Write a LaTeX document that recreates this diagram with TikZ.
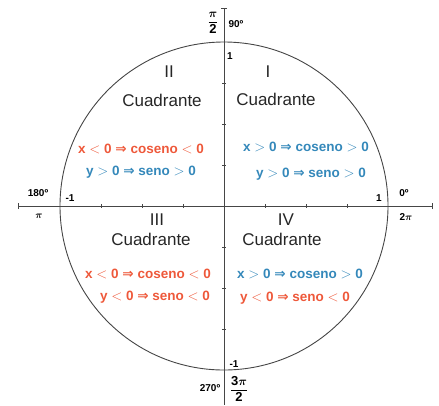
\documentclass[tikz,border=0pt]{standalone}
\usepackage{amsmath}
\usepackage{bm}
\usepackage{fontspec}
\setmainfont{Liberation Sans}
\newfontfamily\symf{DejaVu Sans}
\definecolor{redq}{RGB}{238,88,58}
\definecolor{blueq}{RGB}{52,136,186}
\definecolor{axisc}{RGB}{70,70,70}
\newcommand{\impl}{\ {\symf\bfseries ⇒}\ }
\begin{document}
\begin{tikzpicture}[x=1pt,y=-1pt,
  axisline/.style={draw=axisc,line width=0.9pt},
  tickmark/.style={draw=axisc,line width=0.7pt},
  quad/.style={font=\fontsize{17}{19}\selectfont,text=black!85,inner sep=0pt},
  cond/.style={font=\fontsize{13.5}{15}\selectfont\bfseries,inner sep=0pt},
  small/.style={font=\fontsize{10}{11}\selectfont\bfseries,inner sep=0pt},
  frac/.style={font=\fontsize{13}{14}\selectfont,inner sep=0pt}]
\useasboundingbox (0,0) rectangle (439,405);
% circle
\node[circle,draw=axisc,line width=0.9pt,minimum size=328pt,inner sep=0pt] (circ) at (224,206) {};
% axes
\coordinate (xl) at (18,206);
\coordinate (xr) at (432,206);
\coordinate (yt) at (224,8);
\coordinate (yb) at (224,405);
\draw[axisline] (xl) -- (xr);
\draw[axisline] (yt) -- (yb);
% end ticks
\draw[tickmark] ([xshift=-3pt]yt) -- ([xshift=3pt]yt);
\draw[tickmark] ([yshift=-3pt]xl) -- ([yshift=3pt]xl);
\draw[tickmark] ([yshift=-3pt]xr) -- ([yshift=3pt]xr);
% ticks
\foreach \d in {-123,-82,-41,41,82,123}{
  \draw[tickmark] (224+\d,204) -- (224+\d,208);
  \draw[tickmark] (222,206+\d) -- (226,206+\d);
}
% quadrant labels
\node[quad] (q2) at (169,72) {II};
\node[quad] (c2) at (162,100) {Cuadrante};
\node[quad] (q1) at (268,72) {I};
\node[quad] (c1) at (276,99) {Cuadrante};
\node[quad] (q3) at (157,220) {III};
\node[quad] (c3) at (151,239) {Cuadrante};
\node[quad] (q4) at (286,220) {IV};
\node[quad] (c4) at (282,239) {Cuadrante};
% conditions
\node[cond,text=redq] (x2) at (141,149) {x $<$ 0\impl coseno $<$ 0};
\node[cond,text=blueq] (y2) at (141,172) {y $>$ 0\impl seno $>$ 0};
\node[cond,text=blueq] (x1) at (306,147) {x $>$ 0\impl coseno $>$ 0};
\node[cond,text=blueq] (y1) at (311,174) {y $>$ 0\impl seno $>$ 0};
\node[cond,text=redq] (x3) at (148,274) {x $<$ 0\impl coseno $<$ 0};
\node[cond,text=redq] (y3) at (155,297) {y $<$ 0\impl seno $<$ 0};
\node[cond,text=blueq] (x4) at (300,274) {x $>$ 0\impl coseno $>$ 0};
\node[cond,text=redq] (y4) at (295,298) {y $<$ 0\impl seno $<$ 0};
% axis labels
\node[frac] (p2) at (213,23) {$\dfrac{\bm{\pi}}{\mathbf{2}}$};
\node[small] (d90) at (236,24) {90º};
\node[small] (one) at (230,56) {1};
\node[small] (d180) at (38,193) {180º};
\node[small] (m1l) at (70,198) {-1};
\node[small] (pi) at (39,216) {$\bm{\pi}$};
\node[small] (one2) at (379,198) {1};
\node[small] (d0) at (404,193) {0º};
\node[small] (tpi) at (406,217) {2$\bm{\pi}$};
\node[small] (m1b) at (234,364) {-1};
\node[small] (d270) at (210,388) {270º};
\node[frac] (p32) at (239,389) {$\dfrac{\mathbf{3}\bm{\pi}}{\mathbf{2}}$};
\end{tikzpicture}
\end{document}
